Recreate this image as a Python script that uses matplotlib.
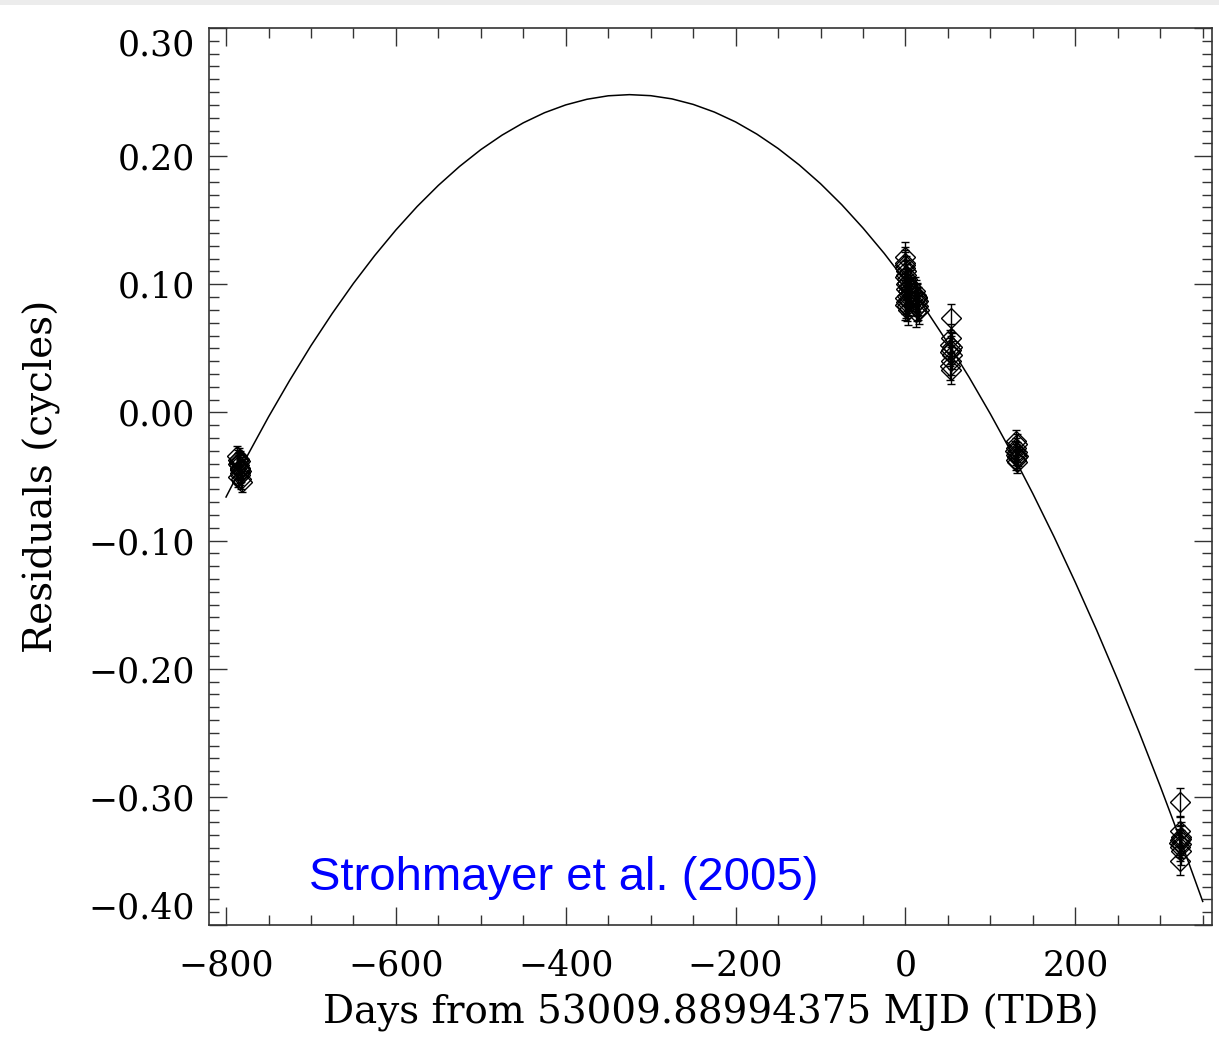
import numpy as np
import matplotlib
matplotlib.use('Agg')
import matplotlib.pyplot as plt
import matplotlib.ticker as mticker
from matplotlib.patches import Rectangle

# fitted curve (days, cycles)
curve_t = [-800, -775, -750, -725, -700, -675, -650, -625, -600, -575, -550, -525,
           -500, -475, -450, -425, -400, -375, -350, -325, -300, -275, -250, -225,
           -200, -175, -150, -125, -100, -75, -50, -25, 0, 25, 50, 75, 100, 125,
           150, 175, 200, 225, 250, 275, 300, 325, 350]
curve_r = [-0.0660, -0.0339, -0.0035, 0.0251, 0.0521, 0.0772, 0.1007, 0.1224,
           0.1424, 0.1607, 0.1772, 0.1920, 0.2051, 0.2164, 0.2260, 0.2339,
           0.2400, 0.2444, 0.2471, 0.2480, 0.2472, 0.2447, 0.2404, 0.2344,
           0.2267, 0.2172, 0.2060, 0.1931, 0.1785, 0.1621, 0.1439, 0.1241,
           0.1025, 0.0792, 0.0541, 0.0274, -0.0012, -0.0314, -0.0634, -0.0971,
           -0.1326, -0.1697, -0.2087, -0.2493, -0.2917, -0.3358, -0.3816]

# timing residuals
obs_t = [-787, -786, -785, -785, -784, -784, -783, -783, -782, -781, -786, -783, -785, -784, -782, -786,
         -1, 0, 0, 1, 1, 2, 2, 3, 3, 4, 0, 1, 2, 3, 5, 6, 0, 1, 2, 4, -1, 1, 3, 0,
         11, 12, 13, 14, 15, 16, 12, 14, 13, 15,
         54, 54, 53, 54, 55, 54, 53, 54, 55, 53,
         130, 131, 130, 131, 130, 131, 130, 131, 129, 132,
         323, 323, 324, 323, 324, 323, 324, 323, 322, 324]
obs_r = [-0.034, -0.037, -0.039, -0.041, -0.043, -0.045, -0.047, -0.049, -0.052, -0.054,
         -0.040, -0.038, -0.036, -0.044, -0.046, -0.050,
         0.121, 0.117, 0.113, 0.110, 0.107, 0.104, 0.101, 0.098, 0.095, 0.092,
         0.089, 0.086, 0.083, 0.080, 0.099, 0.094, 0.106, 0.100, 0.091, 0.087,
         0.115, 0.096, 0.088, 0.084,
         0.095, 0.092, 0.089, 0.086, 0.083, 0.080, 0.078, 0.090, 0.082, 0.087,
         0.074, 0.058, 0.053, 0.049, 0.045, 0.040, 0.036, 0.033, 0.051, 0.047,
         -0.022, -0.025, -0.028, -0.031, -0.033, -0.035, -0.037, -0.039, -0.030, -0.034,
         -0.304, -0.327, -0.331, -0.334, -0.337, -0.339, -0.342, -0.350, -0.336, -0.333]
obs_err = [0.008] * 16 + [0.012] * 24 + [0.011] * 10 + [0.011] * 10 + [0.008] * 10 + [0.011] * 10

yticks = [-0.40, -0.30, -0.20, -0.10, 0.00, 0.10, 0.20, 0.30]
xticks = [-800, -600, -400, -200, 0, 200]

plt.rcParams['font.family'] = ['DejaVu Serif']

fig = plt.figure(figsize=(12.19, 10.49), dpi=100)
fig.patches.append(Rectangle((0, 1 - 5 / 1049), 1, 5 / 1049, transform=fig.transFigure,
                             facecolor='#ececec', edgecolor='none'))
ax = fig.add_axes([0.1715, 0.1182, 0.8228, 0.8551])

ax.plot(curve_t, curve_r, color='black', lw=1.1)
ax.errorbar(obs_t, obs_r, yerr=obs_err, fmt='D', ms=10.5, mfc='none', mec='black',
            mew=1.0, ecolor='black', elinewidth=1, capsize=3, capthick=1)

ax.set_xlim(-820, 361)
ax.set_ylim(-0.40, 0.30)

ax.xaxis.set_major_locator(mticker.FixedLocator(xticks))
ax.xaxis.set_minor_locator(mticker.MultipleLocator(50))
ax.yaxis.set_major_locator(mticker.FixedLocator(yticks))
ax.yaxis.set_minor_locator(mticker.MultipleLocator(0.01))
ax.yaxis.set_major_formatter(mticker.FuncFormatter(lambda v, p: ('%.2f' % v).replace('-', '\u2212')))

ax.tick_params(which='both', direction='in', top=True, right=True, width=1, color='#333333')
ax.tick_params(which='major', length=13, labelsize=25)
ax.tick_params(which='minor', length=7)
ax.tick_params(axis='x', which='major', pad=17)
ax.tick_params(axis='y', which='major', pad=10)
for s in ax.spines.values():
    s.set_linewidth(1.2)
    s.set_color('#333333')

labs = ax.get_yticklabels()
labs[0].set_va('bottom')
labs[-1].set_va('top')

ax.set_xlabel('Days from 53009.88994375 MJD (TDB)', fontsize=28, labelpad=8)
ax.set_ylabel('Residuals (cycles)', fontsize=28, labelpad=20)

ax.text(-702, -0.373, 'Strohmayer et al. (2005)', color='#0000ff', fontsize=34,
        family='Liberation Sans', ha='left', va='baseline')

plt.savefig('out.png', dpi=100)
